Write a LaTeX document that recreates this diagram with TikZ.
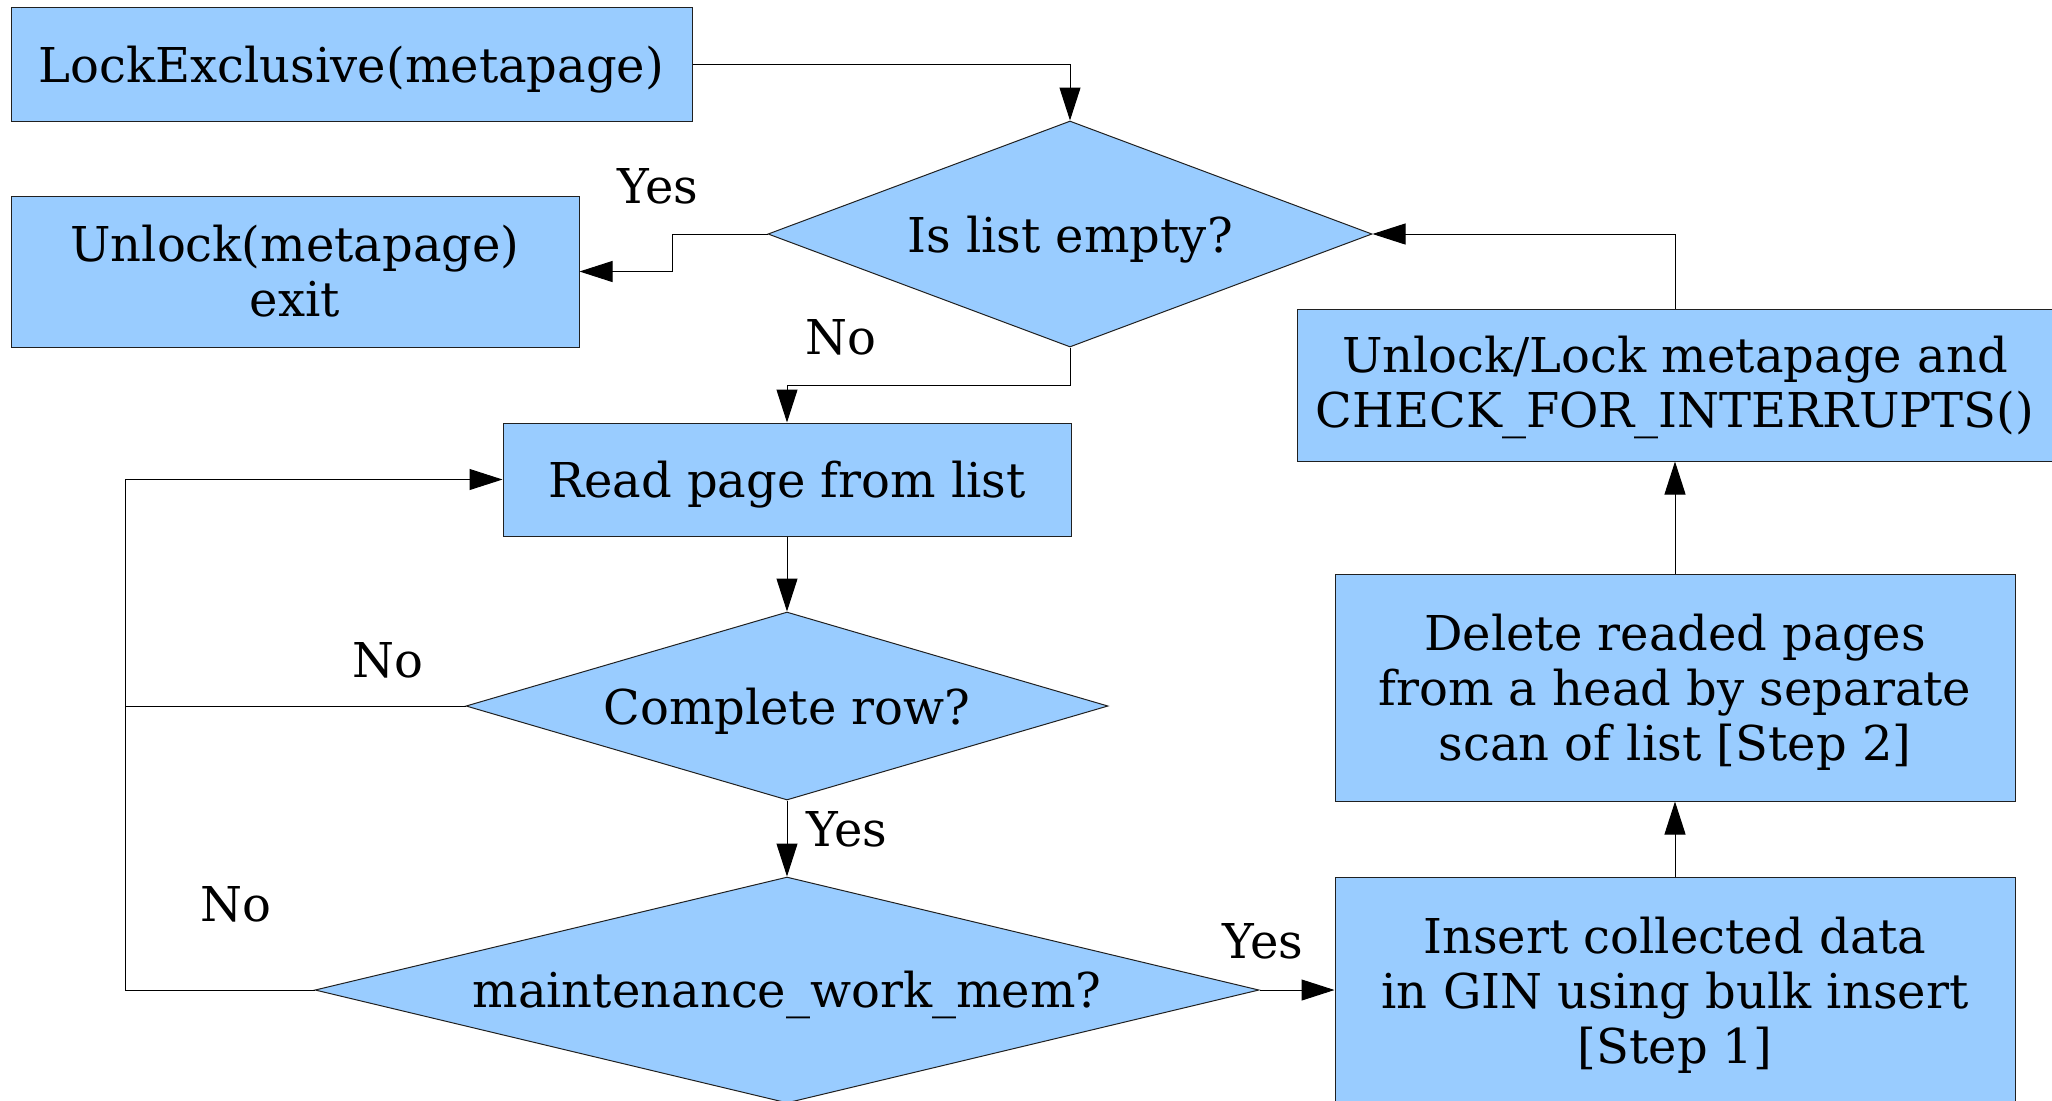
\documentclass[tikz,border=0pt]{standalone}
\usepackage{fontspec}
\setmainfont{DejaVu Serif}
\usetikzlibrary{shapes.geometric,arrows.meta}
\definecolor{boxfill}{HTML}{99CCFF}
\definecolor{edge}{HTML}{202020}
\newcommand{\lowerstrut}[1][23.5pt]{\rule{0pt}{#1}}
\begin{document}
\begin{tikzpicture}[x=0.5pt,y=-0.5pt,
  every node/.style={font=\fontsize{24}{27.5}\selectfont, inner sep=0pt, align=center},
  box/.style={rectangle, draw=edge, line width=0.5pt, fill=boxfill},
  decide/.style={diamond, draw=edge, line width=0.5pt, fill=boxfill},
  conn/.style={draw=black, line width=0.5pt},
  arr/.style={conn, -{Triangle[length=16.5pt,width=10.5pt]}},
  lbl/.style={}]
\useasboundingbox (0,0) rectangle (2052,1100);
% boxes
\node[box, minimum width=340.5pt, minimum height=57pt] (lock) at (351.5,64) {\lowerstrut LockExclusive(metapage)};
\node[box, minimum width=284pt, minimum height=75.5pt] (unlock) at (295,271.5) {Unlock(metapage)\\exit};
\node[decide, aspect=2.673, minimum width=302pt, minimum height=113pt] (empty) at (1070,234) {\lowerstrut Is list empty?};
\node[box, minimum width=284pt, minimum height=56.5pt] (read) at (787,479.5) {\lowerstrut Read page from list};
\node[decide, aspect=3.415, minimum width=321pt, minimum height=94pt] (complete) at (787,706) {\lowerstrut Complete row?};
\node[decide, aspect=4.177, minimum width=472pt, minimum height=113pt] (maint) at (787,990) {\lowerstrut maintenance\_work\_mem?};
\node[box, minimum width=340pt, minimum height=113pt] (insert) at (1675,990) {\lowerstrut[23pt]Insert collected data\\in GIN using bulk insert\\{}[Step 1]};
\node[box, minimum width=340pt, minimum height=113.5pt] (delete) at (1675,687.5) {\lowerstrut[23pt]Delete readed pages\\from a head by separate\\scan of list [Step 2]};
\node[box, minimum width=378pt, minimum height=76pt] (relock) at (1675,385) {\lowerstrut[21pt]Unlock/Lock metapage and\\CHECK\_FOR\_INTERRUPTS()};
% labels
\node[lbl] (yes1) at (658,186) {Yes};
\node[lbl] (no1) at (841,337) {No};
\node[lbl] (no2) at (388,660) {No};
\node[lbl] (yes2) at (847,829) {Yes};
\node[lbl] (no3) at (236,904) {No};
\node[lbl] (yes3) at (1263,941) {Yes};
% connectors
\coordinate (loopx) at (125,990);
\draw[arr] (lock.east) -| (empty.north);
\draw[arr] (empty.west) -- ++(-95,0) |- (unlock.east);
\draw[arr] (empty.south) -- ++(0,38) -| (read.north);
\draw[arr] (read.south) -- (complete.north);
\draw[arr] (complete.south) -- (maint.north);
\draw[conn] (complete.west) -- (complete.west -| loopx);
\draw[arr] (maint.west) -- (loopx) |- (read.west);
\draw[arr] (maint.east) -- (insert.west);
\draw[arr] (insert.north) -- (delete.south);
\draw[arr] (delete.north) -- (relock.south);
\draw[arr] (relock.north) |- (empty.east);
\end{tikzpicture}
\end{document}
